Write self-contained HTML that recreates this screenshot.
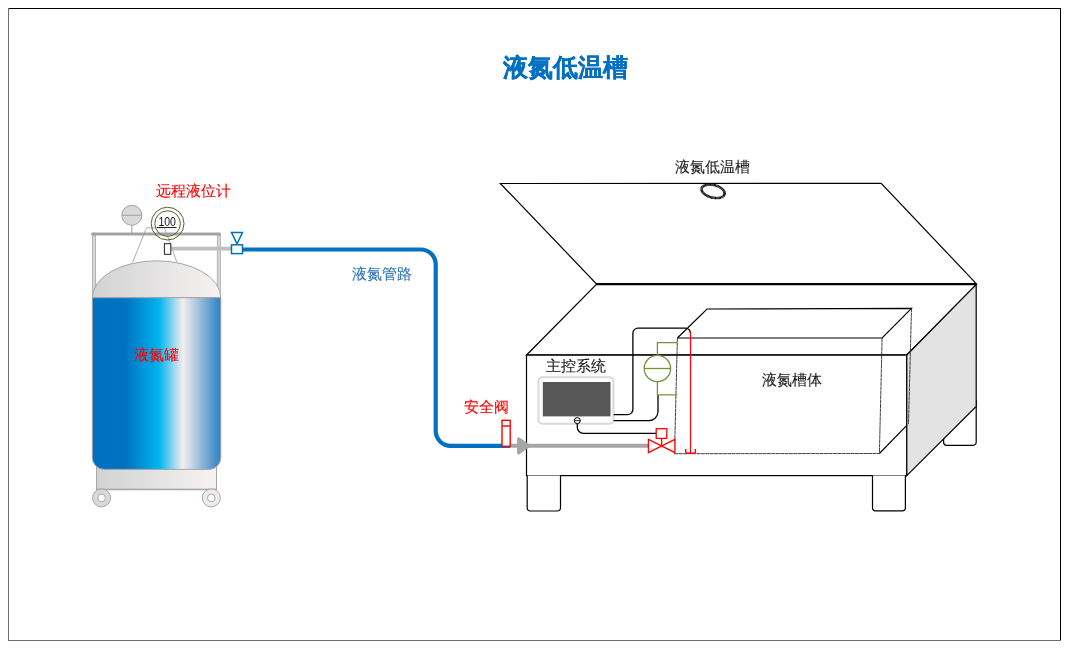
<!DOCTYPE html>
<html><head><meta charset="utf-8">
<style>
html,body{margin:0;padding:0;background:#fff;width:1072px;height:650px;overflow:hidden;}
svg{display:block;position:absolute;left:0;top:0;will-change:transform;}
text{font-family:"Liberation Sans",sans-serif;}
</style></head>
<body>
<svg width="1072" height="650" viewBox="0 0 1072 650">
<defs>
  <linearGradient id="blueG" x1="0" y1="0" x2="1" y2="0">
    <stop offset="0" stop-color="#0070c0"/>
    <stop offset="0.25" stop-color="#0072c0"/>
    <stop offset="0.52" stop-color="#00b4ee"/>
    <stop offset="0.705" stop-color="#f4eeee"/>
    <stop offset="1" stop-color="#2a80c4"/>
  </linearGradient>
  <linearGradient id="greyG" x1="0" y1="0" x2="1" y2="0">
    <stop offset="0" stop-color="#d2d2d2"/>
    <stop offset="1" stop-color="#f6f2f2"/>
  </linearGradient>
</defs>
<!-- page border -->
<rect x="8" y="8" width="1053" height="1" fill="#000"/>
<rect x="1060" y="8" width="1" height="633" fill="#000"/>
<rect x="8" y="8" width="1" height="633" fill="#707070"/>
<rect x="8" y="640" width="1053" height="1" fill="#707070"/>

<!-- title -->
<text x="503" y="75.6" font-size="25" font-weight="bold" fill="#0070c0" stroke="#0070c0" stroke-width="0.1">液氮低温槽</text>

<!-- ===== tank ===== -->
<text x="155.5" y="196" font-size="15" fill="#ff0000" stroke="#ff0000" stroke-width="0.12">远程液位计</text>
<!-- posts -->
<rect x="92.5" y="235" width="3" height="60" fill="#d6d6d6" stroke="#a8a8a8" stroke-width="0.8"/>
<rect x="217.3" y="235" width="3" height="60" fill="#d6d6d6" stroke="#a8a8a8" stroke-width="0.8"/>
<!-- gauge -->
<line x1="131.8" y1="225" x2="131.8" y2="233" stroke="#bbb" stroke-width="1.5"/>
<circle cx="131.8" cy="215.3" r="10" fill="#d9d9d9" stroke="#a0a0a0" stroke-width="1"/>
<line x1="122" y1="215.3" x2="141.6" y2="215.3" stroke="#a0a0a0" stroke-width="1"/>
<!-- top bar -->
<rect x="91" y="232.5" width="130" height="3" rx="1.5" fill="#a3a3a3"/>
<!-- funnel -->
<polyline points="132.6,262.3 146.5,227.8 164.5,227.8 176.9,262.3" fill="none" stroke="#9a9a9a" stroke-width="0.8"/>
<!-- level meter -->
<circle cx="167.6" cy="223.6" r="16.4" fill="none" stroke="#4f6228" stroke-width="1"/>
<circle cx="167.6" cy="223.6" r="12.8" fill="none" stroke="#4f6228" stroke-width="1"/>
<text x="158.4" y="225.8" font-size="12" fill="#111" textLength="17.6" lengthAdjust="spacingAndGlyphs">100</text>
<line x1="157" y1="227.5" x2="176.5" y2="227.5" stroke="#222" stroke-width="1"/>
<!-- grey small pipe -->
<rect x="171" y="246.7" width="61" height="3.8" fill="#bfbfbf"/>
<rect x="164.4" y="243.7" width="6.4" height="10.6" fill="#fff" stroke="#222" stroke-width="1"/>
<!-- blue pipe -->
<path d="M242.8,249.5 H420.5 A15,15 0 0 1 435.7,264.5 V430.8 A15,15 0 0 0 450.7,445.8 H510" fill="none" stroke="#0070c0" stroke-width="4.2"/>
<!-- blue valve -->
<polygon points="231.5,232.5 242.5,232.5 237,243.8" fill="#fff" stroke="#0070c0" stroke-width="1.5"/>
<rect x="231.5" y="244.8" width="11" height="8.8" fill="#fff" stroke="#0070c0" stroke-width="1.5"/>
<text x="352" y="279" font-size="15" fill="#2e75b6" stroke="#2e75b6" stroke-width="0.12">液氮管路</text>
<!-- dome -->
<path d="M92.3,297.7 A64.25,36.9 0 0 1 220.8,297.7 Z" fill="url(#greyG)" stroke="#a6a6a6" stroke-width="1"/>
<rect x="96.5" y="455" width="120" height="34.4" fill="url(#greyG)" stroke="#a6a6a6" stroke-width="1"/>
<line x1="96.5" y1="489.4" x2="216.5" y2="489.4" stroke="#a6a6a6" stroke-width="1.5"/>
<!-- blue body -->
<path d="M92.3,297.7 H220.8 V457.4 A12,12 0 0 1 208.8,469.4 H104.3 A12,12 0 0 1 92.3,457.4 Z" fill="url(#blueG)" stroke="#a6a6a6" stroke-width="1"/>
<text x="134" y="359.6" font-size="15" fill="#ff0000" stroke="#ff0000" stroke-width="0.12">液氮罐</text>
<!-- base -->
<!-- wheels -->
<circle cx="101.6" cy="497.9" r="9" fill="#d9d9d9" stroke="#a6a6a6" stroke-width="1"/>
<circle cx="101.6" cy="497.9" r="3.8" fill="#fff" stroke="#a6a6a6" stroke-width="1"/>
<circle cx="211.3" cy="497.9" r="9" fill="#efebeb" stroke="#a6a6a6" stroke-width="1"/>
<circle cx="211.3" cy="497.9" r="3.8" fill="#fff" stroke="#a6a6a6" stroke-width="1"/>

<!-- ===== right box ===== -->
<g fill="none" stroke="#000" stroke-width="1.2">
<!-- lid -->
<polygon points="500.4,183.5 881.2,183.3 976.2,283.6 596.2,283.6" fill="#fff"/>
<!-- top face -->
<polygon points="596.2,284.6 976.2,284.6 906.8,355 526.6,355" fill="#fff"/>
<!-- front face -->
<rect x="526.5" y="355" width="380.3" height="120.6" fill="#fff"/>
<path d="M943.6,430 V442.3 A3,3 0 0 0 946.6,445.3 H973.2 A3,3 0 0 0 976.2,442.3 V400" fill="#fff"/>
<!-- right side -->
<polygon points="906.8,355 976.2,284.6 976.2,406.5 906.8,475.6" fill="#e3e3e3"/>
<!-- feet -->
<path d="M527.2,475.6 V508 A3,3 0 0 0 530.2,511 H557.5 A3,3 0 0 0 560.5,508 V475.6" fill="#fff"/>
<path d="M872.5,475.6 V507.8 A3,3 0 0 0 875.5,510.8 H902.4 A3,3 0 0 0 905.4,507.8 V475.6" fill="#fff"/>
</g>
<!-- inner box -->
<g fill="none" stroke="#000" stroke-width="1.2">
<polyline points="677.4,338 707,309 911.5,308.4 882.1,338 677.4,338"/>
<line x1="879.4" y1="453.5" x2="906.8" y2="425.3"/>
</g>
<g fill="none" stroke="#2a2a2a" stroke-width="0.9" stroke-dasharray="4,0.4">
<line x1="677.4" y1="338" x2="674.5" y2="453.7"/>
<line x1="882.1" y1="338" x2="879.4" y2="453.5"/>
<line x1="674.5" y1="453.7" x2="879.4" y2="453.5"/>
<line x1="911.5" y1="308.4" x2="908.5" y2="424.2"/>
</g>
<!-- front top edge across inner box -->
<line x1="526.6" y1="355" x2="906.8" y2="355" stroke="#111" stroke-width="1.2"/>
<!-- lid hole -->
<ellipse cx="713.1" cy="191.3" rx="11.8" ry="6.3" transform="rotate(14 713.1 191.3)" fill="none" stroke="#000" stroke-width="2.6" stroke-dasharray="1,0.25"/>
<text x="674.5" y="172" font-size="15" fill="#1e1e1e" stroke="#1e1e1e" stroke-width="0.12">液氮低温槽</text>
<text x="762" y="384.5" font-size="15" fill="#1e1e1e" stroke="#1e1e1e" stroke-width="0.12">液氮槽体</text>

<!-- controller -->
<text x="546" y="371" font-size="15" fill="#1a1a1a" stroke="#1a1a1a" stroke-width="0.12">主控系统</text>
<rect x="538.5" y="377.2" width="75" height="46.5" rx="4" fill="#fff" stroke="#d9d9d9" stroke-width="2"/>
<rect x="542.8" y="382" width="67.7" height="34.4" fill="#575757"/>
<!-- wires -->
<g fill="none" stroke="#000" stroke-width="1.3">
<path d="M613.7,414.7 H627.4 A5.5,5.5 0 0 0 632.9,409.2 V333.2 A5,5 0 0 1 637.9,328.2 H685.5 A5,5 0 0 1 690.5,333.2"/>
<path d="M613.7,420.6 H649 A9,9 0 0 0 658,411.6 V394.9"/>
<path d="M577.3,423.5 V427.3 A6,6 0 0 0 583.3,433.3 H656.2"/>
</g>
<circle cx="577.3" cy="420.6" r="3" fill="#fff" stroke="#000" stroke-width="1"/>
<line x1="574.3" y1="420.6" x2="580.3" y2="420.6" stroke="#000" stroke-width="0.8"/>
<!-- green meter -->
<g fill="none" stroke="#76923c" stroke-width="1.3">
<polyline points="677.2,342.6 657.4,342.6 657.4,355.3"/>
<circle cx="657.4" cy="368.5" r="13.2"/>
<line x1="644.2" y1="368.5" x2="670.6" y2="368.5"/>
<polyline points="657.4,381.7 657.4,394.9 677.2,394.9"/>
</g>
<!-- red level line -->
<g fill="none" stroke="#ff0000" stroke-width="1.2">
<line x1="690.5" y1="332" x2="690.5" y2="453"/>
<path d="M685.7,449 V451.7 A1.5,1.5 0 0 0 687.2,453.2 H693.9 A1.5,1.5 0 0 0 695.4,451.7 V449" stroke-width="1.4"/>
</g>
<!-- grey pipe -->
<line x1="510" y1="445.8" x2="650" y2="445.8" stroke="#a6a6a6" stroke-width="4"/>
<polygon points="518.6,438.8 528.6,445.8 518.6,453" fill="#a6a6a6" stroke="#a6a6a6" stroke-width="3" stroke-linejoin="round"/>
<!-- red valve -->
<g fill="#fff" stroke="#ff0000" stroke-width="1.3">
<line x1="661.6" y1="438.4" x2="661.6" y2="446"/>
<rect x="656.2" y="428.7" width="10.6" height="9.7"/>
<polygon points="648.4,439.3 674.9,452.7 674.9,439.3 648.4,452.7" />
</g>
<!-- relief valve -->
<g fill="#fff" stroke="#ff0000" stroke-width="1.4">
<rect x="502" y="420.3" width="8.2" height="26"/>
<line x1="502" y1="426" x2="510.2" y2="426"/>
</g>
<text x="464.3" y="412.4" font-size="15" fill="#ff0000" stroke="#ff0000" stroke-width="0.12">安全阀</text>

</svg>
</body></html>
